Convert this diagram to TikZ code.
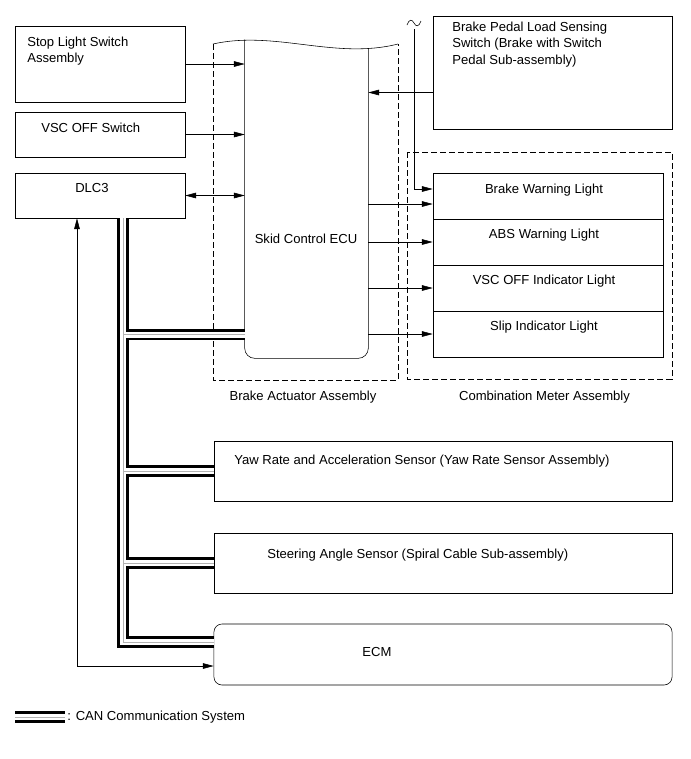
\documentclass[tikz,border=0pt]{standalone}
\usepackage{fontspec}
\setmainfont{Liberation Sans}
\usetikzlibrary{arrows.meta}

\begin{document}
\begin{tikzpicture}[x=0.025cm, y=-0.025cm,
    font=\fontsize{9.3}{11.5}\selectfont,
    box/.style={draw, inner sep=0pt, minimum width=4.25cm, minimum height=1.125cm},
    lamp/.style={draw, inner sep=0pt, minimum width=5.75cm, minimum height=1.15cm},
    wide/.style={draw, inner sep=0pt, minimum width=11.45cm, minimum height=1.5cm},
    txt/.style={inner sep=0pt, align=left},
    arr/.style={-{Triangle[length=0.27cm, width=0.14cm]}},
    darr/.style={{Triangle[length=0.27cm, width=0.14cm]}-{Triangle[length=0.27cm, width=0.14cm]}},
    group/.style={dash pattern=on 0.15cm off 0.075cm},
    canout/.style={line width=0.29cm},
    canin/.style={white, line width=0.15cm},
    canmid/.style={gray!60, line width=0.3pt}]
    \useasboundingbox (0,0) rectangle (691,759);

    %switches
    \node[box, minimum height=1.9cm] (stop) at (100,64) {};
    \node[box] (vsc) at (100,134.5) {};
    \node[box] (dlc) at (100,195.5) {};
    \node[txt, anchor=west] (stoptxt) at (27,51) {Stop Light Switch\\Assembly};
    \node[txt, anchor=west] (vsctxt) at (41,128) {VSC OFF Switch};
    \node[txt, anchor=west] (dlctxt) at (75,188) {DLC3};

    %brake actuator (wavy top)
    \draw (213,44) .. controls (275,30) and (335,60) .. (398,44);
    \draw[group] (213,44) |- (398,380) -- (398,44);
    \node[inner sep=0pt, minimum width=3.075cm, minimum height=7.95cm] (ecu) at (306.5,199) {};
    \draw[rounded corners=0.25cm] (ecu.north west) |- (ecu.south) -| ([yshift=-0.21cm]ecu.north east);
    \node[txt] (ecutxt) at (306,239) {Skid Control ECU};
    \node[txt] (acttxt) at (303,397) {Brake Actuator Assembly};

    %pedal switch
    \node[draw, inner sep=0pt, minimum width=5.975cm, minimum height=2.825cm] (pedal) at (552.5,72.5) {};
    \node[txt, anchor=west] (pedaltxt) at (452,44.5) {Brake Pedal Load Sensing\\Switch (Brake with Switch\\Pedal Sub-assembly)};

    %combination meter
    \draw[group] (407,152) rectangle (672,379);
    \node[lamp] (bwl) at (548,196) {};
    \node[lamp] (abs) at (548,242) {};
    \node[lamp] (vscl) at (548,288) {};
    \node[lamp] (slip) at (548,334) {};
    \node[txt] (bwltxt) at (544,190) {Brake Warning Light};
    \node[txt] (abstxt) at (544,235.5) {ABS Warning Light};
    \node[txt] (vscltxt) at (544,281.5) {VSC OFF Indicator Light};
    \node[txt] (sliptxt) at (544,327) {Slip Indicator Light};
    \node[txt] (cmtxt) at (544.5,397) {Combination Meter Assembly};

    %sensors and ECM
    \node[wide] (yaw) at (443,471) {};
    \node[wide] (steer) at (443,563) {};
    \node[wide, rounded corners=0.2cm, minimum height=1.525cm] (ecm) at (443,654.5) {};
    \node[txt, anchor=west] (yawtxt) at (234,461) {Yaw Rate and Acceleration Sensor (Yaw Rate Sensor Assembly)};
    \node[txt, anchor=west] (steertxt) at (267,555) {Steering Angle Sensor (Spiral Cable Sub-assembly)};
    \node[txt] (ecmtxt) at (377,652) {ECM};

    %signal lines
    \draw[arr] (stop.east) -- (stop.east -| ecu.west);
    \draw[arr] (vsc.east) -- (vsc.east -| ecu.west);
    \draw[darr] (dlc.east) -- (dlc.east -| ecu.west);
    \draw[arr] ([yshift=-0.5cm]pedal.west) -- ([yshift=-0.5cm]pedal.west -| ecu.east);
    \draw[arr] ([yshift=-0.2cm]ecu.east |- bwl.west) -- ([yshift=-0.2cm]bwl.west);
    \draw[arr] (ecu.east |- abs.west) -- (abs.west);
    \draw[arr] (ecu.east |- vscl.west) -- (vscl.west);
    \draw[arr] (ecu.east |- slip.west) -- (slip.west);
    \draw[darr] ([xshift=-0.575cm]dlc.south) |- ([yshift=-0.2875cm]ecm.west);

    %line from elsewhere
    \draw (407,25) .. controls (409,19) and (412,19) .. (414,23) .. controls (416,27) and (419,27) .. (421,21);
    \coordinate (brk) at (414,29);
    \draw[arr] (brk) |- ([yshift=0.175cm]bwl.west);

    %CAN
    \coordinate (bus) at ([xshift=0.575cm]dlc.south);
    \coordinate (leg) at (15,717);
    \node[txt, anchor=west] (legtxt) at (67,717) {: CAN Communication System};
    \foreach \lay in {canout, canin, canmid} {
        \draw[\lay] (bus) |- ([yshift=-3.3875cm]ecu.west);
        \draw[\lay] (bus) |- (yaw.west);
        \draw[\lay] (bus) |- (steer.west);
        \draw[\lay] (bus) |- ([yshift=0.3125cm]ecm.west);
        \draw[\lay] (leg) -- ([xshift=-0.05cm]legtxt.west);
    }
\end{tikzpicture}
\end{document}
